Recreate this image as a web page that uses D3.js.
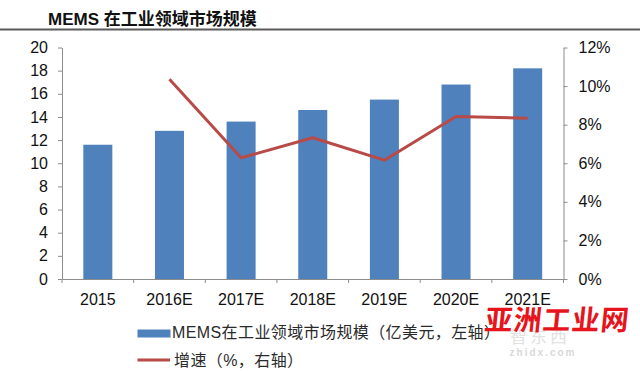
<!DOCTYPE html>
<html>
<head>
<meta charset="utf-8">
<script src="https://cdn.jsdelivr.net/npm/d3@7"></script>
<style>
  html, body { margin: 0; padding: 0; background: #fff; }
  svg { display: block; }
</style>
</head>
<body>
<svg id="chart" width="640" height="371"></svg>
<script>
// ---- data ----
const categories = ["2015", "2016E", "2017E", "2018E", "2019E", "2020E", "2021E"];
const marketSize = [11.6, 12.8, 13.6, 14.6, 15.5, 16.8, 18.2];   // 亿美元, left axis
const growth = [null, 10.35, 6.28, 7.32, 6.16, 8.42, 8.33];      // %, right axis
const leftTicks = [0, 2, 4, 6, 8, 10, 12, 14, 16, 18, 20];
const rightTicks = [0, 2, 4, 6, 8, 10, 12];
const titleText = "MEMS 在工业领域市场规模";
const legendBar = "MEMS在工业领域市场规模（亿美元，左轴）";
const legendLine = "增速（%，右轴）";

// ---- layout ----
const svg = d3.select("#chart");
const plot = { left: 62, right: 563.5, top: 47.5, bottom: 279 };
const latin = "'Liberation Sans', Arial, sans-serif";
const cjk = "'Liberation Sans', 'Noto Sans CJK SC', sans-serif";
const axisColor = "#8c8c8c";

const x = d3.scaleBand().domain(categories).range([plot.left, plot.right]).padding(0);
const yL = d3.scaleLinear().domain([0, 20]).range([plot.bottom, plot.top]);
const yR = d3.scaleLinear().domain([0, 12]).range([plot.bottom, plot.top]);

// title
svg.append("text")
  .attr("x", 48).attr("y", 25)
  .attr("font-family", cjk).attr("font-size", 17).attr("font-weight", "bold")
  .attr("fill", "#111")
  .text(titleText);
svg.append("line")
  .attr("x1", 0).attr("x2", 640).attr("y1", 29.5).attr("y2", 29.5)
  .attr("stroke", "#5a5a5a").attr("stroke-width", 2);

// bars
const barW = x.bandwidth() * 0.405;
svg.append("g").selectAll("rect")
  .data(categories)
  .join("rect")
  .attr("x", (d) => x(d) + (x.bandwidth() - barW) / 2)
  .attr("y", (d, i) => yL(marketSize[i]))
  .attr("width", barW)
  .attr("height", (d, i) => yL(0) - yL(marketSize[i]))
  .attr("fill", "#4F81BD");

// left axis
const gL = svg.append("g").attr("transform", `translate(${plot.left},0)`)
  .call(d3.axisLeft(yL).tickValues(leftTicks).tickSize(4).tickPadding(10).tickSizeOuter(0));
// right axis
const gR = svg.append("g").attr("transform", `translate(${plot.right},0)`)
  .call(d3.axisRight(yR).tickValues(rightTicks).tickFormat((d) => d + "%").tickSize(4).tickPadding(11).tickSizeOuter(0));
// x axis
const gX = svg.append("g").attr("transform", `translate(0,${plot.bottom})`)
  .call(d3.axisBottom(x).tickSize(0).tickPadding(15).tickSizeOuter(0));
// x boundary ticks
svg.append("g").selectAll("line")
  .data(categories.concat(["__end"]))
  .join("line")
  .attr("x1", (d, i) => i < categories.length ? x(d) : plot.right)
  .attr("x2", (d, i) => i < categories.length ? x(d) : plot.right)
  .attr("y1", plot.bottom).attr("y2", plot.bottom + 4)
  .attr("stroke", axisColor);

[gL, gR, gX].forEach((g) => {
  g.select(".domain").attr("stroke", axisColor);
  g.selectAll(".tick line").attr("stroke", axisColor);
  g.selectAll(".tick text")
    .attr("font-family", latin).attr("font-size", 16).attr("fill", "#111");
});

// growth line
const lineGen = d3.line()
  .defined((d) => d != null)
  .x((d, i) => x(categories[i]) + x.bandwidth() / 2)
  .y((d) => yR(d));
svg.append("path")
  .datum(growth)
  .attr("d", lineGen)
  .attr("fill", "none")
  .attr("stroke", "#B84A48")
  .attr("stroke-width", 3)
  .attr("stroke-linejoin", "round");

// legend
const lg = svg.append("g");
lg.append("rect").attr("x", 137.5).attr("y", 329.5).attr("width", 33).attr("height", 8).attr("fill", "#4F81BD");
lg.append("text").attr("x", 172).attr("y", 337.5)
  .attr("font-family", cjk).attr("font-size", 16).attr("fill", "#2a2a2a")
  .attr("letter-spacing", 0.4)
  .text(legendBar);
lg.append("line").attr("x1", 137.5).attr("x2", 170).attr("y1", 360).attr("y2", 360)
  .attr("stroke", "#B84A48").attr("stroke-width", 3);
lg.append("text").attr("x", 174).attr("y", 365.5)
  .attr("font-family", cjk).attr("font-size", 16).attr("fill", "#2a2a2a")
  .attr("letter-spacing", 0.4)
  .text(legendLine);

// watermark
svg.append("text").attr("x", 540).attr("y", 343)
  .attr("text-anchor", "middle")
  .attr("font-family", "'Noto Sans CJK SC', sans-serif").attr("font-size", 17)
  .attr("fill", "#e2e2e2").attr("letter-spacing", 3)
  .text("智东西");
svg.append("text").attr("x", 543).attr("y", 356)
  .attr("text-anchor", "middle")
  .attr("font-family", latin).attr("font-size", 10).attr("font-weight", "bold")
  .attr("fill", "#d8d8d8").attr("letter-spacing", 2)
  .text("zhidx.com");
svg.append("text").attr("x", 555).attr("y", 330)
  .attr("text-anchor", "middle")
  .attr("font-family", "'Noto Sans CJK SC', sans-serif").attr("font-size", 28).attr("font-weight", "bold")
  .attr("fill", "#e8141c").attr("letter-spacing", 1)
  .attr("transform", "skewX(-6) translate(36,0)")
  .text("亚洲工业网");
</script>
</body>
</html>
